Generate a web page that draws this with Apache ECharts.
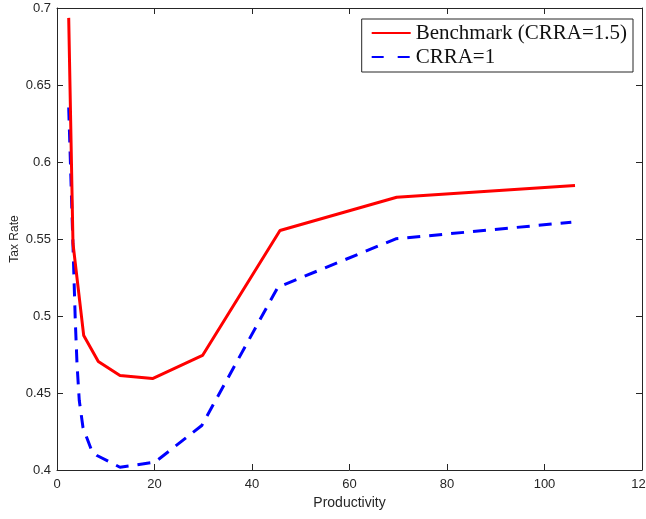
<!DOCTYPE html>
<html>
<head>
<meta charset="utf-8">
<script src="https://cdn.jsdelivr.net/npm/echarts@6/dist/echarts.min.js"></script>
<style>html,body{margin:0;padding:0;background:#fff;overflow:hidden;}#c{width:646px;height:519px;}</style>
</head>
<body>
<div id="c"></div>
<script>
var seriesNames = ['Benchmark (CRRA=1.5)', 'CRRA=1'];
var benchX = [2.40, 3.28, 5.48, 8.47, 12.92, 19.59, 29.85, 45.74, 69.68, 106.26];
var benchY = [0.6936, 0.5471, 0.4873, 0.4705, 0.4614, 0.4594, 0.4744, 0.5555, 0.5771, 0.5847];
var crraX = [2.40, 3.28, 3.75, 4.10, 4.57, 5.33, 7.18, 8.20, 12.92, 20.1, 29.7, 45.3, 69.5, 105.5];
var crraY = [0.6354, 0.5458, 0.4971, 0.4692, 0.4451, 0.4276, 0.4120, 0.4094, 0.4018, 0.4051, 0.4289, 0.5187, 0.5501, 0.5609];
var xTicks = [0, 20, 40, 60, 80, 100, 120];
var yTicks = [0.4, 0.45, 0.5, 0.55, 0.6, 0.65, 0.7];

function pairs(xs, ys) { return xs.map(function (x, i) { return [x, ys[i]]; }); }

var axisColor = '#262626';
var font = 'Liberation Sans, Arial, sans-serif';
function baseX(pos, showLabel) {
  return {
    type: 'value', position: pos, min: xTicks[0], max: xTicks[xTicks.length - 1], interval: 20,
    axisLine: { show: true, onZero: false, lineStyle: { color: axisColor, width: 1 } },
    axisTick: { show: true, inside: true, length: 6, lineStyle: { color: axisColor } },
    axisLabel: { show: showLabel, color: axisColor, fontSize: 13, fontFamily: font, margin: 8, hideOverlap: false },
    splitLine: { show: false }
  };
}
function baseY(pos, showLabel) {
  return {
    type: 'value', position: pos, min: yTicks[0], max: yTicks[yTicks.length - 1], interval: 0.05,
    axisLine: { show: true, onZero: false, lineStyle: { color: axisColor, width: 1 } },
    axisTick: { show: true, inside: true, length: 6, lineStyle: { color: axisColor } },
    axisLabel: { show: showLabel, color: axisColor, fontSize: 13, fontFamily: font, margin: 6,
      formatter: function (v) { return String(parseFloat(v.toFixed(2))); } },
    splitLine: { show: false }
  };
}
var x0 = baseX('bottom', true);
x0.name = 'Productivity'; x0.nameLocation = 'middle'; x0.nameGap = 26; x0.nameMoveOverlap = false;
x0.nameTextStyle = { color: axisColor, fontSize: 14, fontFamily: font };
var x1 = baseX('top', false);
var y0 = baseY('left', true);
y0.name = 'Tax Rate'; y0.nameLocation = 'middle'; y0.nameGap = 36; y0.nameMoveOverlap = false;
y0.nameTextStyle = { color: axisColor, fontSize: 12, fontFamily: font };
var y1 = baseY('right', false);

var chart = echarts.init(document.getElementById('c'), null, { renderer: 'canvas' });
chart.setOption({
  animation: false,
  backgroundColor: '#fff',
  grid: { left: 57, right: 4, top: 8, bottom: 49, containLabel: false, outerBoundsMode: 'none' },
  xAxis: [x0, x1],
  yAxis: [y0, y1],
  legend: {
    orient: 'vertical', right: 13, top: 19,
    padding: [2, 6, 3, 9],
    itemWidth: 39, itemHeight: 14, itemGap: 0,
    borderColor: axisColor, borderWidth: 1, backgroundColor: '#fff',
    itemStyle: { color: 'transparent', borderWidth: 0, opacity: 0 },
    textStyle: { fontFamily: 'Liberation Serif, Times New Roman, serif', fontSize: 21, lineHeight: 24, color: '#111' },
    data: [
      { name: seriesNames[0] },
      { name: seriesNames[1], lineStyle: { type: [12, 14] } }
    ]
  },
  series: [
    {
      name: seriesNames[0], type: 'line', xAxisIndex: 0, yAxisIndex: 0,
      data: pairs(benchX, benchY), symbol: 'none', showSymbol: false,
      lineStyle: { color: '#ff0000', width: 3 }, itemStyle: { color: '#ff0000' }, z: 3
    },
    {
      name: seriesNames[1], type: 'line', xAxisIndex: 0, yAxisIndex: 0,
      data: pairs(crraX, crraY), symbol: 'none', showSymbol: false,
      lineStyle: { color: '#0000ff', width: 3, type: [13, 9] }, itemStyle: { color: '#0000ff' }, z: 2
    }
  ]
});
</script>
</body>
</html>
